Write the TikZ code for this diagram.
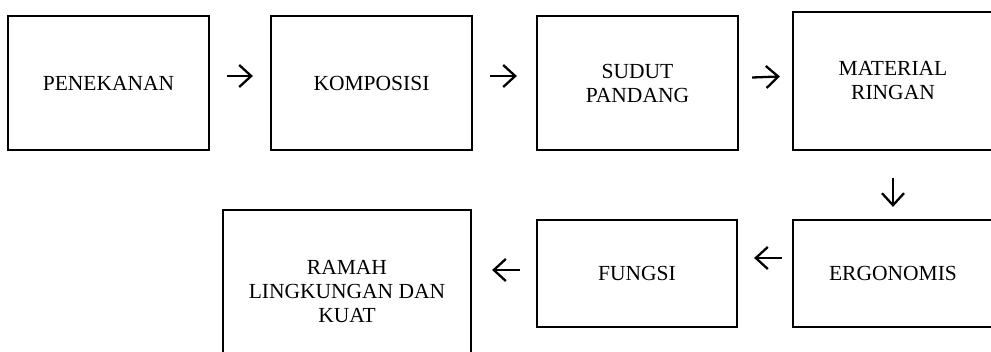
\documentclass[tikz,border=0pt]{standalone}
\usepackage{fontspec}
\setmainfont{Liberation Serif}
\usetikzlibrary{arrows.meta}
\begin{document}
\begin{tikzpicture}[x=1pt,y=-1pt,
  box/.style={draw=black, line width=2.2pt, rectangle, inner sep=0pt, align=center,
    font=\fontsize{21.5}{24}\selectfont},
  arr/.style={line width=2.3pt, -{Straight Barb[length=12pt,width=22pt,line width=2.3pt]}}]
\useasboundingbox (0,0) rectangle (991,351);
\node[box, minimum width=201pt, minimum height=134pt] (b1) at (108.5,83) {PENEKANAN};
\node[box, minimum width=201pt, minimum height=134pt] (b2) at (371.5,83) {KOMPOSISI};
\node[box, minimum width=201pt, minimum height=134pt] (b3) at (637.5,83) {SUDUT\\PANDANG};
\node[box, minimum width=200pt, minimum height=138pt] (b4) at (893,81) {MATERIAL\\RINGAN};
\node[box, minimum width=200pt, minimum height=107pt] (b5) at (893,273.5) {ERGONOMIS};
\node[box, minimum width=200pt, minimum height=107pt] (b6) at (637,273.5) {FUNGSI};
\node[box, minimum width=248pt, minimum height=164pt] (b7) at (347,292) {RAMAH\\LINGKUNGAN DAN\\KUAT};
\draw[arr, shorten <=17pt, shorten >=17pt] ([yshift=7pt]b1.east) -- ([yshift=7pt]b2.west);
\draw[arr, shorten <=17pt, shorten >=19pt] ([yshift=7pt]b2.east) -- ([yshift=7pt]b3.west);
\draw[arr, shorten <=13pt, shorten >=12pt] ([yshift=5pt]b3.east) -- ([yshift=5pt]b4.west);
\draw[arr, shorten <=27pt, shorten >=12pt] (b4.south) -- (b5.north);
\draw[arr, shorten <=10pt, shorten >=16pt] ([yshift=15.5pt]b5.west) -- ([yshift=15.5pt]b6.east);
\draw[arr, shorten <=16pt, shorten >=20pt] ([yshift=3.5pt]b6.west) -- ([yshift=22pt]b7.east);
\end{tikzpicture}
\end{document}
